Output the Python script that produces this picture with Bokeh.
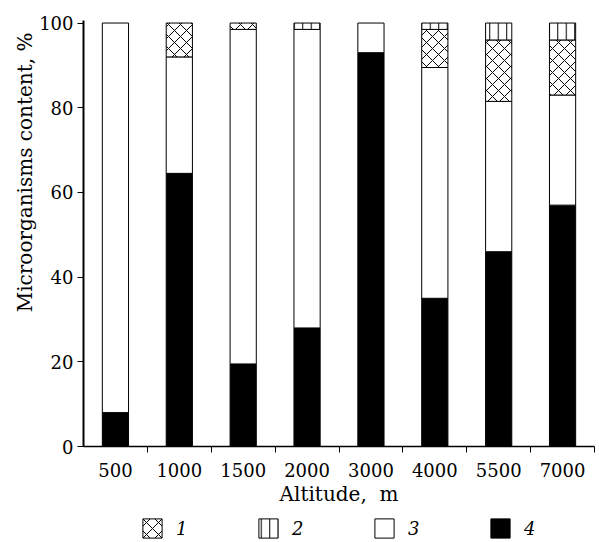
import numpy as np
from bokeh.plotting import figure
from bokeh.layouts import column
from bokeh.models import FixedTicker, Legend, LegendItem, Range1d, Title
from bokeh.embed import file_html
from bokeh.resources import INLINE

altitudes = ["500", "1000", "1500", "2000", "3000", "4000", "5500", "7000"]
s4 = [8, 64.5, 19.5, 28, 93, 35, 46, 57]        # black
s3 = [92, 27.5, 79, 70.5, 7, 54.5, 35.5, 26]    # white
s1 = [0, 8, 1.5, 0, 0, 9, 14.5, 13]             # cross-hatched
s2 = [0, 0, 0, 1.5, 0, 1.5, 4, 4]               # vertical lines
legend_labels = ["1", "2", "3", "4"]
y_ticks = [0, 20, 40, 60, 80, 100]

FONT = "DejaVu Serif"
xc = np.arange(len(altitudes)) + 0.5

STYLES = {
    "4": dict(fill_color="black", line_color="black", line_width=1),
    "3": dict(fill_color="white", line_color="black", line_width=1),
    "1": dict(fill_color="white", line_color="black", line_width=1, hatch_pattern="diagonal_cross",
              hatch_scale=12, hatch_weight=1, hatch_color="black"),
    "2": dict(fill_color="white", line_color="black", line_width=1, hatch_pattern="vertical_line",
              hatch_scale=8.5, hatch_weight=1, hatch_color="black"),
}

p = figure(width=599, height=505, min_border_left=83, min_border_right=5,
           min_border_top=20, min_border_bottom=0,
           x_range=Range1d(0, 8), y_range=Range1d(0, 100.6),
           output_backend="svg", toolbar_location=None,
           background_fill_color="white", border_fill_color="white")
p.outline_line_color = None
p.xgrid.visible = False
p.ygrid.visible = False

b4 = np.zeros(8)
t4 = b4 + np.array(s4)
t3 = t4 + np.array(s3)
t1 = t3 + np.array(s1)
t2 = t1 + np.array(s2)

W = 0.41
p.vbar(x=xc, bottom=b4, top=t4, width=W, **STYLES["4"])
p.vbar(x=xc, bottom=t4, top=t3, width=W, **STYLES["3"])
m1 = np.array(s1) > 0
p.vbar(x=xc[m1], bottom=t3[m1], top=t1[m1], width=W, **STYLES["1"])
m2 = np.array(s2) > 0
p.vbar(x=xc[m2], bottom=t1[m2], top=t2[m2], width=W, **STYLES["2"])

# axes
p.xaxis.ticker = FixedTicker(ticks=list(xc), minor_ticks=list(range(1, 9)))
p.xaxis.major_label_overrides = {float(v): lab for v, lab in zip(xc, altitudes)}
p.xaxis.major_tick_out = 0
p.xaxis.major_tick_in = 0
p.xaxis.minor_tick_out = 6
p.xaxis.minor_tick_in = 0
p.xaxis.axis_line_width = 1.5
p.xaxis.major_label_standoff = 10

p.yaxis.ticker = FixedTicker(ticks=y_ticks)
p.yaxis.major_tick_out = 6
p.yaxis.major_tick_in = 0
p.yaxis.axis_line_width = 2
p.yaxis.major_label_standoff = 4

for ax in (p.xaxis, p.yaxis):
    ax.major_label_text_font = FONT
    ax.major_label_text_font_size = "18px"
    ax.major_label_text_color = "black"
    ax.axis_line_color = "black"
    ax.major_tick_line_color = "black"
    ax.minor_tick_line_color = "black"
p.yaxis.minor_tick_line_color = None

p.add_layout(Title(text="Microorganisms content,\u00a0%", align="right", offset=12,
                   text_font=FONT, text_font_size="20px", text_font_style="normal",
                   text_color="black", standoff=0), "left")
p.add_layout(Title(text="Altitude,\u00a0\u00a0m", align="center",
                   text_font=FONT, text_font_size="20px", text_font_style="normal",
                   text_color="black", standoff=0), "below")

# legend strip below the chart (its frame is aligned with the chart frame in the column)
q = figure(width=599, height=37, min_border_left=83, min_border_right=5, min_border_top=0,
           min_border_bottom=0, x_range=Range1d(0, 8), y_range=Range1d(200, 300),
           x_axis_type=None, y_axis_type=None, output_backend="svg", toolbar_location=None,
           background_fill_color="white", border_fill_color="white")
q.outline_line_color = None
q.xgrid.visible = False
q.ygrid.visible = False
# legend-only renderers: same series data, lying below the strip's visible range
src = {"1": (t3, t1), "2": (t1, t2), "3": (t4, t3), "4": (b4, t4)}
items = []
for lab in legend_labels:
    bot, top = src[lab]
    r = q.vbar(x=xc, bottom=bot, top=top, width=W, **STYLES[lab])
    items.append(LegendItem(label=lab, renderers=[r]))
legend = Legend(items=items, orientation="horizontal", location=(57, 2),
                glyph_width=24, glyph_height=24, label_standoff=12, spacing=60,
                padding=0, margin=0, border_line_color=None, background_fill_alpha=0,
                label_text_font=FONT, label_text_font_size="18px", label_text_font_style="italic",
                label_text_color="black")
q.add_layout(legend, "center")

open("out.html", "w").write(file_html(column(p, q, spacing=0), INLINE))
